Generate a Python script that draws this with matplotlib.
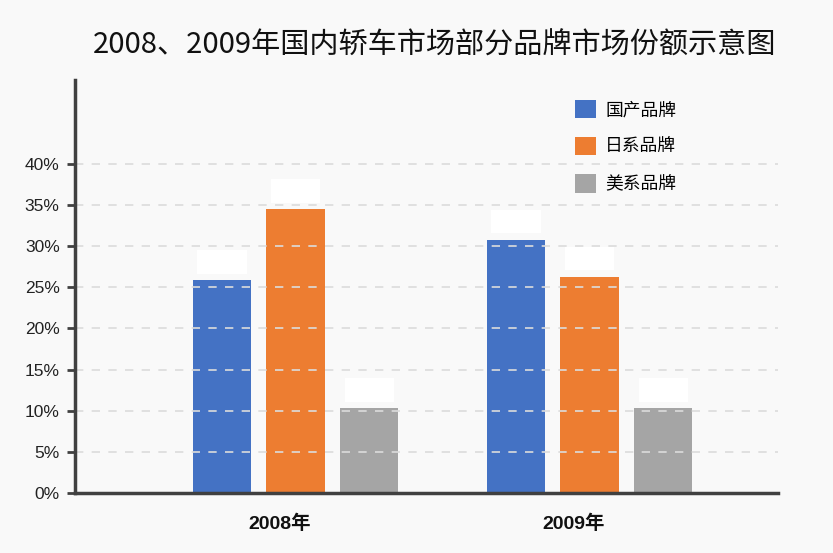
import matplotlib
matplotlib.use("Agg")
import matplotlib.pyplot as plt
from matplotlib.patches import Patch
import numpy as np

years = ["2008年", "2009年"]
series = ["国产品牌", "日系品牌", "美系品牌"]
values = {
    "国产品牌": [25.9, 30.8],
    "日系品牌": [34.5, 26.3],
    "美系品牌": [10.3, 10.3],
}
yticks = [0, 5, 10, 15, 20, 25, 30, 35, 40]
colors = ["#4472c4", "#ed7d31", "#a5a5a5"]

plt.rcParams['font.family'] = ['Liberation Sans', 'Noto Sans CJK SC', 'DejaVu Sans']

fig = plt.figure(figsize=(8.33, 5.53), dpi=100, facecolor="#f9f9f9")
ax = fig.add_axes([75/833, 1-493/553, (778-75)/833, (493-80)/553])
ax.set_facecolor("#f9f9f9")

x = np.arange(len(years))
step = 0.25
width = 0.2
for i, (name, c) in enumerate(zip(series, colors)):
    xs = x + (i - 1) * step
    bars = ax.bar(xs, values[name], width=width, color=c, zorder=2)
    for b, v in zip(bars, values[name]):
        ax.annotate(f"{v}%", (b.get_x() + b.get_width()/2, v),
                    xytext=(0, 13), textcoords="offset points",
                    ha="center", va="center", fontsize=10, color="white",
                    bbox=dict(boxstyle="square,pad=0.35", fc="white", ec="none"),
                    zorder=4)

ax.set_xlim(-0.75, 1.641)
ax.set_ylim(0, 50.2)

for t in yticks[1:]:
    ax.axhline(t, color="#dcdcdc", lw=1.2, ls=(0, (5, 5)), zorder=3)

ax.set_yticks(yticks)
ax.set_yticklabels([f"{t}%" for t in yticks], fontsize=12.5, color="#222222")
ax.tick_params(axis="y", length=6, width=2, color="#404040", pad=5)
ax.set_xticks(x - 0.053)
ax.set_xticklabels(years, fontsize=14, fontweight="bold", color="#111111")
ax.tick_params(axis="x", length=0, pad=15.5)

for s in ["top", "right"]:
    ax.spines[s].set_visible(False)
for s in ["left", "bottom"]:
    ax.spines[s].set_color("#404040")
    ax.spines[s].set_linewidth(2.5)
    ax.spines[s].set_zorder(5)

handles = [Patch(facecolor=c, edgecolor="none") for c in colors]
fig.legend(handles, series, loc="upper left",
           bbox_to_anchor=(575/833, 1-100/553), bbox_transform=fig.transFigure,
           frameon=False, handlelength=1.2, handleheight=1.2,
           handletextpad=0.5, labelspacing=1.02, borderpad=0, borderaxespad=0,
           prop={'family': ['Noto Sans CJK SC'], 'size': 12.8})

fig.text(435/833, 1-45/553, "2008、2009年国内轿车市场部分品牌市场份额示意图",
         ha="center", va="center", fontsize=21, color="#111111",
         family=['Noto Sans CJK SC'])

fig.savefig("out.png", dpi=100, facecolor=fig.get_facecolor())
